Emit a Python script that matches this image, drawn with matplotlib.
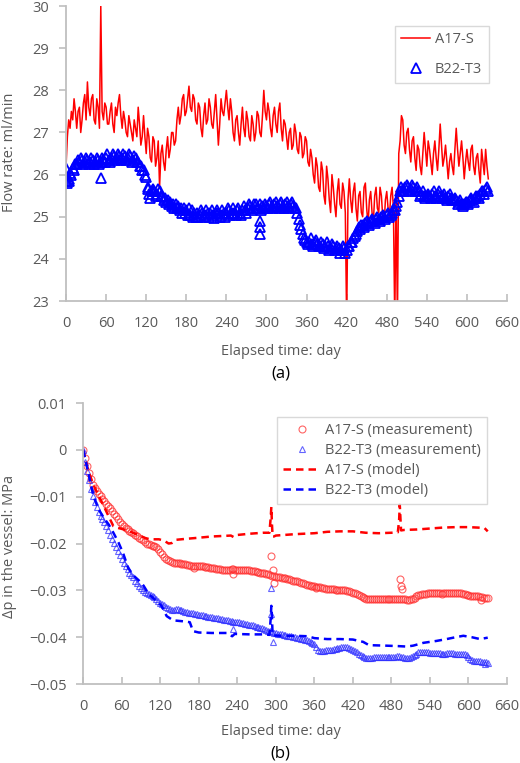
import numpy as np
import matplotlib
matplotlib.use("Agg")
import matplotlib.pyplot as plt

plt.rcParams['font.family'] = ['Open Sans', 'DejaVu Sans']

# ---- (a) flow rate, every 2 days ----
flow_days = np.arange(0, 633, 2)
a17_flow = [
    26.2, 26.9, 27.3, 27.1, 27.5, 27.3, 27.8, 27.5, 27.1, 27.5, 27.6, 27.0, 27.3, 27.7, 27.9, 27.3,
    28.2, 27.6, 27.4, 27.8, 27.9, 27.3, 27.2, 27.8, 27.6,
    27.1, 30.0, 27.5, 27.3, 27.7, 27.6, 27.2, 27.2, 27.5, 27.7, 27.2, 27.0, 27.6, 27.4, 27.7, 27.9,
    27.4, 27.1, 27.5, 27.3, 27.0, 26.9, 27.4, 27.2, 27.0, 26.8,
    27.3, 27.1, 26.9, 27.6, 27.2, 26.7, 26.9, 27.4, 26.9, 26.5, 27.1, 26.9, 26.4, 26.3, 26.9, 26.8,
    26.2, 26.4, 26.8, 25.7, 26.5, 26.7, 26.3, 26.1, 26.6,
    26.9, 26.4, 26.6, 27.0, 27.0, 26.7, 26.8, 27.3, 27.6, 27.2, 27.4, 27.8, 27.9, 27.4, 27.5, 27.8,
    28.1, 27.6, 27.5, 27.9, 27.8, 27.3, 27.2, 27.7, 27.6,
    27.1, 26.9, 27.4, 27.7, 27.2, 27.3, 27.8, 27.6, 27.2, 27.1, 27.5, 27.9, 27.3, 26.7, 27.2, 27.8,
    27.5, 27.4, 27.7, 28.0, 27.6, 27.3, 27.8, 27.5, 27.0,
    26.8, 27.3, 27.4, 27.0, 26.7, 27.2, 27.6, 27.1, 26.9, 27.5, 27.3, 26.9, 26.8, 27.4, 27.2, 26.8,
    27.0, 27.5, 27.4, 27.0, 26.9, 27.4, 28.0, 27.5, 27.3,
    27.7, 27.5, 27.1, 26.9, 27.4, 27.6, 27.2, 27.0, 27.5, 27.7, 27.1, 26.8, 27.3, 27.2, 26.9, 26.6,
    27.0, 27.1, 26.6, 26.7, 27.2, 27.0, 26.6, 26.5, 27.0,
    26.9, 26.4, 26.5, 26.9, 26.8, 26.3, 26.2, 26.6, 26.4, 26.0, 25.8, 26.4, 26.2, 25.7, 25.6, 26.3,
    26.1, 25.5, 25.3, 26.2, 25.9, 25.4, 25.1, 26.0, 25.7,
    25.3, 25.0, 25.6, 25.9, 25.3, 25.2, 25.8, 25.6, 25.1, 22.5, 25.4, 25.9, 25.4, 25.1, 25.6, 25.8,
    25.2, 24.9, 25.5, 25.6, 25.1, 25.0, 25.7, 25.8, 25.2,
    24.8, 25.4, 25.6, 25.1, 24.9, 25.5, 25.7, 25.2, 25.1, 25.7, 25.5, 25.0, 24.8, 25.4, 25.6, 25.2,
    25.0, 25.5, 25.7, 25.2, 22.5, 25.6, 22.5, 26.5, 26.8,
    27.4, 27.3, 26.7, 26.5, 27.0, 27.1, 26.6, 26.3, 26.8, 26.9, 26.4, 26.1, 26.7, 26.6, 26.2, 26.0,
    26.5, 27.0, 26.6, 26.2, 26.8, 26.6, 26.3, 26.0, 26.5,
    26.8, 26.4, 26.1, 26.6, 27.2, 26.7, 26.2, 26.4, 26.7, 26.3, 25.9, 26.3, 26.5, 26.2, 26.0, 26.6,
    27.1, 26.6, 26.2, 26.5, 26.8, 26.4, 25.9, 26.3, 26.6,
    26.3, 26.1, 26.6, 26.7, 26.2, 26.0, 26.4, 26.5, 26.1, 25.8, 26.6, 26.3, 26.0, 26.6, 26.2, 25.9]
b22_flow = [
    25.95, 25.85, 25.9, 26.05, 26.0, 26.15, 26.1, 26.25, 26.25, 26.35, 26.3, 26.4, 26.35, 26.25,
    26.3, 26.4, 26.35, 26.25, 26.3, 26.4, 26.35, 26.25, 26.3, 26.4, 26.35,
    26.25, 26.3, 26.4, 26.35, 26.3, 26.4, 26.5, 26.35, 26.3, 26.4, 26.5, 26.45, 26.35, 26.4, 26.5,
    26.45, 26.35, 26.4, 26.5, 26.45, 26.35, 26.4, 26.5, 26.45, 26.3, 26.35,
    26.45, 26.4, 26.3, 26.3, 26.2, 26.2, 26.1, 26.1, 26.0, 25.95, 25.7, 25.55, 25.45, 25.6, 25.65,
    25.6, 25.5, 25.55, 25.65, 25.6, 25.5, 25.5, 25.4, 25.45, 25.35,
    25.4, 25.3, 25.35, 25.25, 25.3, 25.2, 25.3, 25.2, 25.25, 25.15, 25.2, 25.1, 25.2, 25.1, 25.15,
    25.05, 25.2, 25.05, 25.15, 25.0, 25.1, 25.0, 25.1, 25.0, 25.05,
    25.15, 25.1, 25.0, 25.05, 25.15, 25.1, 25.0, 25.1, 25.15, 25.05, 24.98, 25.1, 25.15, 25.1, 25.0,
    25.05, 25.15, 25.1, 25.0, 25.1, 25.2, 25.15, 25.05, 25.1, 25.2,
    25.1, 25.05, 25.15, 25.2, 25.1, 25.05, 25.15, 25.25, 25.15, 25.1, 25.2, 25.3, 25.25, 25.15, 25.2,
    25.3, 25.3, 25.2, 25.2, 25.3, 25.15, 25.25, 25.2, 25.3, 25.25,
    25.2, 25.3, 25.35, 25.25, 25.2, 25.3, 25.35, 25.25, 25.2, 25.3, 25.35, 25.25, 25.2, 25.3, 25.35,
    25.25, 25.2, 25.3, 25.35, 25.25, 25.2, 25.2, 25.1, 24.95, 24.8,
    24.7, 24.6, 24.5, 24.45, 24.4, 24.35, 24.4, 24.5, 24.35, 24.3, 24.4, 24.45, 24.35, 24.3, 24.3,
    24.4, 24.35, 24.25, 24.3, 24.4, 24.3, 24.2, 24.25, 24.35, 24.3,
    24.2, 24.25, 24.3, 24.25, 24.15, 24.2, 24.3, 24.25, 24.15, 24.2, 24.3, 24.3, 24.4, 24.4, 24.5,
    24.55, 24.6, 24.65, 24.75, 24.7, 24.8, 24.8, 24.75, 24.85, 24.9,
    24.85, 24.8, 24.9, 24.95, 24.9, 24.85, 24.95, 25.0, 24.95, 24.9, 25.0, 25.05, 25.0, 24.95, 25.05,
    25.1, 25.0, 25.05, 25.1, 25.15, 25.15, 25.25, 25.35, 25.5, 25.6,
    25.7, 25.65, 25.6, 25.7, 25.75, 25.7, 25.6, 25.65, 25.75, 25.7, 25.6, 25.65, 25.7, 25.6, 25.5,
    25.55, 25.6, 25.5, 25.45, 25.5, 25.55, 25.5, 25.45, 25.55, 25.6,
    25.5, 25.45, 25.55, 25.6, 25.5, 25.45, 25.5, 25.55, 25.45, 25.4, 25.5, 25.55, 25.45, 25.4, 25.4,
    25.45, 25.4, 25.3, 25.35, 25.4, 25.3, 25.25, 25.3, 25.35, 25.35,
    25.3, 25.4, 25.45, 25.4, 25.35, 25.45, 25.5, 25.5, 25.45, 25.55, 25.6, 25.6, 25.55, 25.65, 25.7,
    25.6]
b22_flow_extra_days = [0, 2, 4, 53, 122, 290, 290, 291]
b22_flow_extra = [26.15, 25.8, 25.85, 25.93, 25.65, 24.6, 24.75, 24.9]

# ---- (b) pressure change in the vessel, every 3 days ----
meas_days = np.arange(0, 631, 3)
a17_dp = [
    0, -0.0018, -0.0035, -0.005, -0.0062, -0.0074, -0.0082, -0.0088, -0.0094, -0.0099,
    -0.0105, -0.011, -0.0115, -0.012, -0.0125, -0.0131, -0.0136, -0.0142, -0.0148, -0.0153,
    -0.0158, -0.0163, -0.0167, -0.017, -0.0173, -0.0176, -0.0178, -0.0181, -0.0184, -0.0188,
    -0.019, -0.0193, -0.0197, -0.02, -0.0202, -0.0203, -0.0205, -0.0206, -0.0208, -0.0212,
    -0.0218,
    -0.0222, -0.0228, -0.0233, -0.0236, -0.0238, -0.024, -0.0241, -0.0241, -0.0241, -0.0242,
    -0.0243, -0.0243, -0.0244, -0.0245, -0.0246, -0.0247, -0.0247, -0.0248, -0.0249, -0.0249,
    -0.0248, -0.0249, -0.025, -0.025, -0.0251, -0.0252, -0.0253, -0.0253, -0.0254, -0.0254,
    -0.0255, -0.0256, -0.0257, -0.0257, -0.0256, -0.0256, -0.0255, -0.0255, -0.0256, -0.0256,
    -0.0257, -0.0257, -0.0256, -0.0256, -0.0257, -0.0257, -0.0258, -0.0258, -0.0259, -0.026,
    -0.0261, -0.0262, -0.0263, -0.0264, -0.0265, -0.0266, -0.0268, -0.0269, -0.027, -0.0271,
    -0.0272, -0.0272, -0.0273, -0.0273, -0.0274, -0.0275, -0.0276, -0.0277, -0.0279, -0.028,
    -0.0281, -0.0282, -0.0284, -0.0285, -0.0287, -0.0288, -0.0289, -0.029, -0.029, -0.0291,
    -0.0292, -0.0292, -0.0293, -0.0294, -0.0296, -0.0297, -0.0298, -0.0298, -0.0298, -0.0298,
    -0.0299, -0.0299, -0.03, -0.03, -0.03, -0.03, -0.0301, -0.0302, -0.0303, -0.0305,
    -0.0306, -0.0308, -0.031, -0.0313, -0.0315, -0.0317, -0.0318, -0.0318, -0.0318, -0.0318,
    -0.0319, -0.0319, -0.0318, -0.0318, -0.0319, -0.0319, -0.0319, -0.0319, -0.0318, -0.0318,
    -0.0319, -0.0319, -0.0318, -0.0318, -0.0318, -0.0318, -0.0319, -0.032, -0.032, -0.0319,
    -0.0318, -0.0316, -0.0313, -0.031, -0.0309, -0.0308, -0.0307, -0.0307, -0.0306, -0.0306,
    -0.0305, -0.0305, -0.0305, -0.0306, -0.0306, -0.0307, -0.0306, -0.0306, -0.0305, -0.0305,
    -0.0305, -0.0306, -0.0305, -0.0305, -0.0305, -0.0306, -0.0307, -0.0308, -0.0309, -0.031,
    -0.0311, -0.0312, -0.0312, -0.0312, -0.0313, -0.0314, -0.0315, -0.0316, -0.0316, -0.0317]
b22_dp = [
    0, -0.0025, -0.0045, -0.0065, -0.0083, -0.0098, -0.0112, -0.0123, -0.0132, -0.0141,
    -0.0148, -0.0155, -0.0163, -0.0172, -0.0181, -0.019, -0.0199, -0.0208, -0.0216, -0.0225,
    -0.0233, -0.0241, -0.0248, -0.0255, -0.0262, -0.0267, -0.0272, -0.0279, -0.0285, -0.029,
    -0.0295, -0.03, -0.0304, -0.0306, -0.0307, -0.0309, -0.0312, -0.0315, -0.0318, -0.0322,
    -0.0326,
    -0.0329, -0.0332, -0.0336, -0.0338, -0.034, -0.0341, -0.0341, -0.034, -0.034, -0.0341,
    -0.0343, -0.0344, -0.0346, -0.0347, -0.0348, -0.0349, -0.0349, -0.035, -0.0351, -0.0352,
    -0.0352, -0.0353, -0.0354, -0.0355, -0.0356, -0.0357, -0.0357, -0.0358, -0.0359, -0.036,
    -0.0361, -0.0362, -0.0363, -0.0364, -0.0364, -0.0365, -0.0366, -0.0367, -0.0367, -0.0367,
    -0.0368, -0.0369, -0.037, -0.0371, -0.0372, -0.0373, -0.0374, -0.0375, -0.0376, -0.0378,
    -0.0379, -0.038, -0.0381, -0.0383, -0.0384, -0.0386, -0.0387, -0.0389, -0.039, -0.0392,
    -0.0393, -0.0394, -0.0394, -0.0395, -0.0396, -0.0397, -0.0397, -0.0398, -0.0399, -0.04,
    -0.0401, -0.0402, -0.0403, -0.0404, -0.0405, -0.0407, -0.0408, -0.041, -0.0412, -0.0415,
    -0.0422, -0.0428, -0.0429, -0.0429, -0.0429, -0.0428, -0.0428, -0.0428, -0.0427, -0.0426,
    -0.0425, -0.0424, -0.0423, -0.0422, -0.0421, -0.0421, -0.0422, -0.0424, -0.0425, -0.0427,
    -0.0429, -0.0432, -0.0435, -0.0438, -0.0441, -0.0443, -0.0444, -0.0444, -0.0444, -0.0444,
    -0.0443, -0.0443, -0.0443, -0.0443, -0.0442, -0.0442, -0.0442, -0.0443, -0.0442, -0.0442,
    -0.0442, -0.0442, -0.0441, -0.0441, -0.0442, -0.0443, -0.0444, -0.0444, -0.0444, -0.0443,
    -0.0441, -0.0438, -0.0435, -0.0432, -0.0431, -0.0431, -0.0431, -0.0432, -0.0432, -0.0433,
    -0.0433, -0.0434, -0.0434, -0.0434, -0.0434, -0.0435, -0.0435, -0.0435, -0.0434, -0.0434,
    -0.0434, -0.0434, -0.0435, -0.0435, -0.0435, -0.0436, -0.0436, -0.0436, -0.0438, -0.0442,
    -0.0446, -0.0449, -0.045, -0.045, -0.0451, -0.0451, -0.0452, -0.0452, -0.0454, -0.0455]
a17_dp_extra_days = [173, 234, 293, 295, 297, 363, 494, 495, 496, 620]
a17_dp_extra = [-0.0253, -0.0266, -0.0226, -0.0257, -0.0284, -0.0296, -0.0276, -0.029, -0.0297, -0.032]
b22_dp_extra_days = [234, 293, 293, 296, 625]
b22_dp_extra = [-0.0383, -0.0294, -0.035, -0.0411, -0.0457]

a17_model_days = [0, 8, 16, 24, 32, 40, 47, 52, 58, 66, 76, 86, 96, 104, 118, 126, 133, 138,
                  145, 160, 177, 200, 230, 234, 238, 260, 280, 290, 292, 293, 294, 295, 297,
                  300, 330, 360, 380, 400, 420, 440, 460, 480, 490, 492, 493, 494, 495, 500,
                  520, 540, 560, 580, 600, 615, 625, 630]
a17_model = [0, -0.0045, -0.0075, -0.0098, -0.012, -0.0143, -0.0163, -0.0166, -0.0168, -0.0171,
             -0.0176, -0.0182, -0.0188, -0.0191, -0.0191, -0.0194, -0.02, -0.0199,
             -0.0192, -0.019, -0.0188, -0.0185, -0.0183, -0.0186, -0.0182, -0.0179, -0.0177, -0.0177,
             -0.0145, -0.0122, -0.016, -0.0185, -0.0185,
             -0.0183, -0.018, -0.0178, -0.0175, -0.0174, -0.0174, -0.0177, -0.0178, -0.0177, -0.0176,
             -0.015, -0.0117, -0.0145, -0.0172, -0.0171,
             -0.017, -0.0168, -0.0166, -0.0165, -0.0165, -0.0166, -0.0167, -0.0174]
b22_model_days = [0, 8, 16, 24, 32, 40, 47, 55, 62, 70, 78, 86, 94, 102, 112, 122, 130, 140,
                  155, 166, 171, 180, 200, 224, 232, 236, 260, 280, 290, 292, 293, 294, 295,
                  310, 330, 350, 360, 380, 400, 420, 436, 445, 470, 490, 504, 514, 530, 550,
                  566, 580, 592, 605, 618, 630]
b22_model = [0, -0.005, -0.0099, -0.0127, -0.0145, -0.016, -0.0177, -0.0198, -0.022, -0.0252,
             -0.0268, -0.0278, -0.029, -0.0308, -0.032, -0.0333, -0.0355, -0.0364,
             -0.0366, -0.0368, -0.0387, -0.039, -0.0391, -0.0391, -0.0398, -0.0393, -0.0394,
             -0.0394, -0.0395, -0.036, -0.0333, -0.036, -0.0396,
             -0.0397, -0.0397, -0.0398, -0.0402, -0.0404, -0.0404, -0.0405, -0.041, -0.0417,
             -0.0418, -0.0419, -0.042, -0.0418, -0.0412, -0.0408,
             -0.0404, -0.04, -0.0397, -0.04, -0.0404, -0.0401]

day_ticks = np.arange(0, 661, 60)
gray = '#BFBFBF'
txt = '#595959'

fig = plt.figure(figsize=(5.2, 7.63), dpi=100)
ax1 = fig.add_axes([0.127, 0.6055, 0.848, 0.3865])
ax2 = fig.add_axes([0.160, 0.1035, 0.815, 0.3683])


def style(ax):
    for s in ['top', 'right']:
        ax.spines[s].set_visible(False)
    for s in ['left', 'bottom']:
        ax.spines[s].set_color(gray)
        ax.spines[s].set_linewidth(1.3)
    ax.tick_params(axis='x', direction='in', length=5, width=1.2, color=gray,
                   labelcolor=txt, labelsize=10.5, pad=11)
    ax.tick_params(axis='y', direction='out', length=5, width=1.2, color=gray,
                   labelcolor=txt, labelsize=10.5, pad=7)
    ax.set_xlim(0, 660)
    ax.set_xticks(day_ticks)


# (a)
ax1.plot(flow_days, a17_flow, color='#FF0000', lw=1.1, label='A17-S')
ax1.plot(flow_days, b22_flow, ls='none', marker='^', ms=7.5, mfc='none', mec='#0000FF',
         mew=1.3, label='B22-T3')
ax1.plot(b22_flow_extra_days, b22_flow_extra, ls='none', marker='^', ms=7.5, mfc='none',
         mec='#0000FF', mew=1.3)
style(ax1)
ax1.set_ylim(23, 30)
ax1.set_yticks(np.arange(23, 31, 1))
leg1 = ax1.legend(loc='upper right', bbox_to_anchor=(0.975, 0.958), fancybox=False,
                  edgecolor='#D0D0D0', fontsize=10.5, labelspacing=1.0, handlelength=2.0,
                  borderpad=0.45, handletextpad=0.3)
leg1.get_frame().set_linewidth(1.0)
for t in leg1.get_texts():
    t.set_color(txt)

# (b)
mk = dict(ls='none', ms=5, mfc='none', mew=0.8, alpha=0.75)
ax2.plot(meas_days, a17_dp, marker='o', mec='#FF3030', label='A17-S (measurement)', **mk)
ax2.plot(meas_days, b22_dp, marker='^', mec='#3030FF', label='B22-T3 (measurement)', **mk)
ax2.plot(a17_dp_extra_days, a17_dp_extra, marker='o', mec='#FF3030', **mk)
ax2.plot(b22_dp_extra_days, b22_dp_extra, marker='^', mec='#3030FF', **mk)
ax2.plot(a17_model_days, a17_model, color='#FF0000', lw=1.8, ls=(0, (3, 2)),
         label='A17-S (model)')
ax2.plot(b22_model_days, b22_model, color='#0000FF', lw=1.8, ls=(0, (3, 2)),
         label='B22-T3 (model)')
style(ax2)
ax2.set_ylim(-0.05, 0.01)
yt = [0.01, 0, -0.01, -0.02, -0.03, -0.04, -0.05]
ax2.set_yticks(yt)
ax2.set_yticklabels(['0' if v == 0 else f'{v:.2f}'.replace('-', '\u2212') for v in yt])
leg2 = ax2.legend(loc='upper right', bbox_to_anchor=(0.969, 0.975), fancybox=False,
                  edgecolor='#D0D0D0', fontsize=10.5, labelspacing=0.35, handlelength=2.6,
                  borderpad=0.4, handletextpad=0.3)
leg2.get_frame().set_linewidth(1.0)
for t in leg2.get_texts():
    t.set_color(txt)

fig.text(0.54, 0.539, 'Elapsed time: day', ha='center', va='center', fontsize=10.5, color=txt)
fig.text(0.54, 0.511, '(a)', ha='center', va='center', fontsize=12, color='black')
fig.text(0.54, 0.041, 'Elapsed time: day', ha='center', va='center', fontsize=10.5, color=txt)
fig.text(0.54, 0.013, '(b)', ha='center', va='center', fontsize=12, color='black')
fig.text(0.019, 0.80, 'Flow rate: ml/min', rotation=90, ha='center', va='center',
         fontsize=10.5, color=txt)
fig.text(0.019, 0.284, '\u0394p in the vessel: MPa', rotation=90, ha='center', va='center',
         fontsize=10.5, color=txt)

fig.savefig('out.png', dpi=100)
